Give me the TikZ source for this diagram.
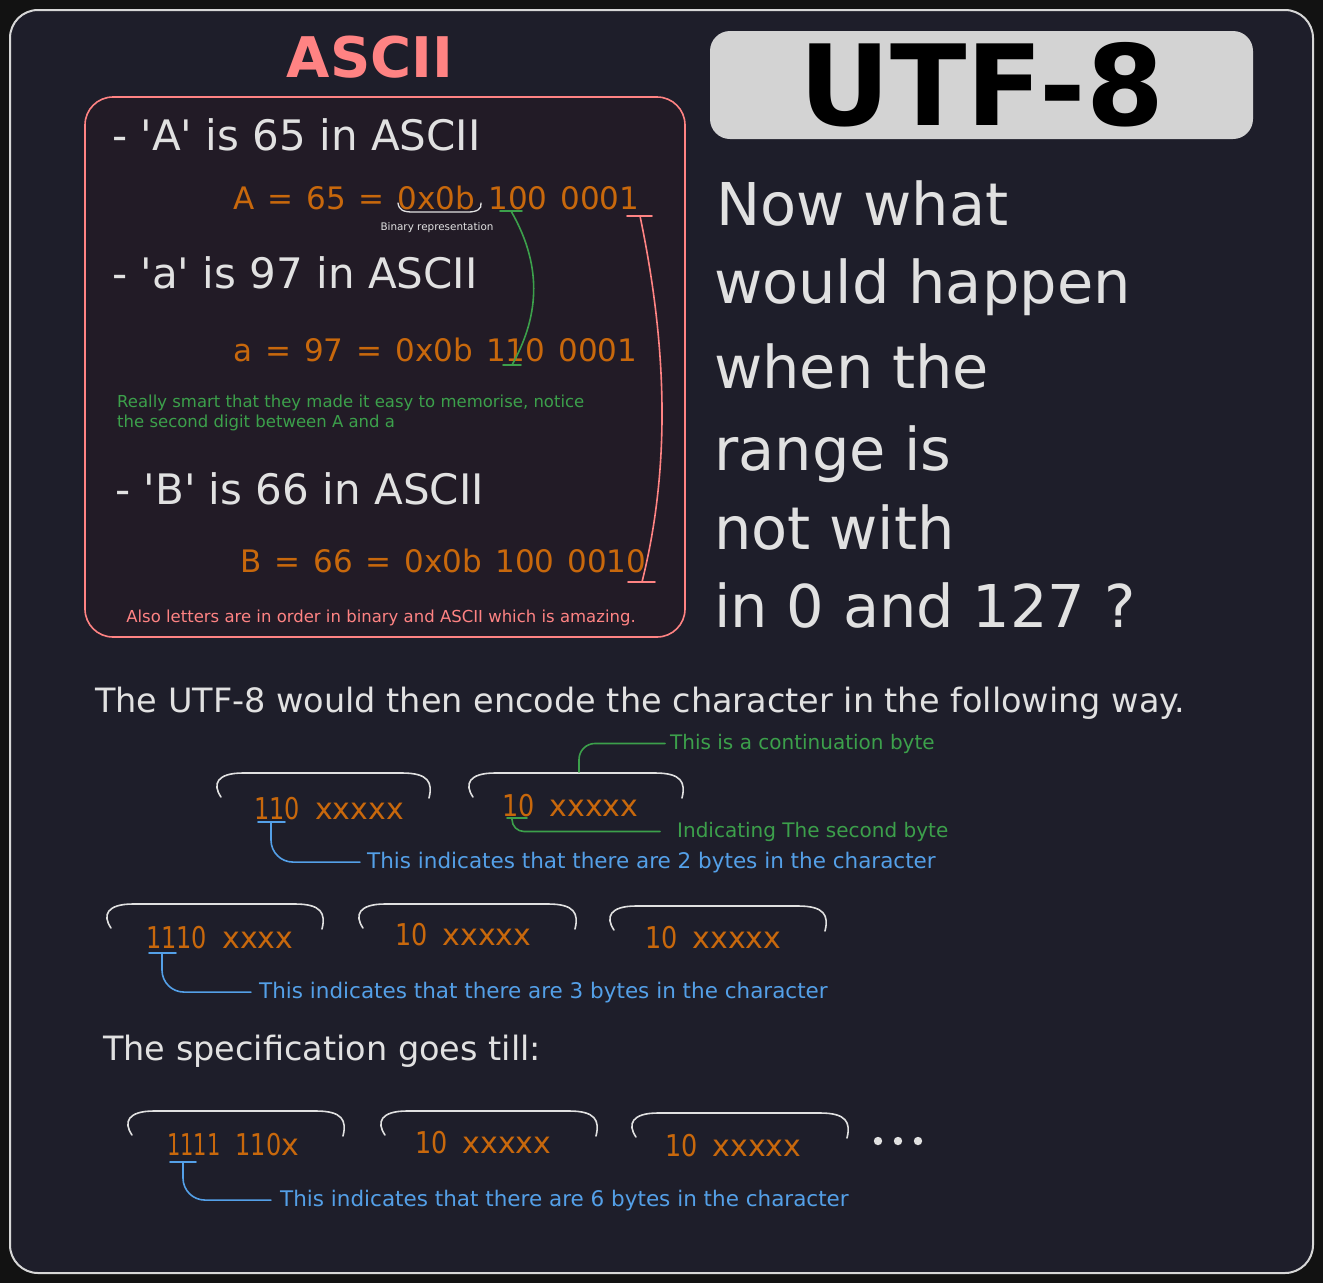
\documentclass[tikz,border=0pt]{standalone}
\usepackage{fontspec}
\setmainfont{DejaVu Sans}
\definecolor{outerbg}{RGB}{18,18,18}
\definecolor{cardbg}{RGB}{30,30,42}
\definecolor{cardline}{RGB}{215,215,215}
\definecolor{asciibg}{RGB}{34,27,38}
\definecolor{pinkc}{RGB}{255,131,131}
\definecolor{txtw}{RGB}{225,225,225}
\definecolor{orangec}{RGB}{200,104,12}
\definecolor{bluec}{RGB}{84,160,232}
\definecolor{greenc}{RGB}{60,160,75}
\definecolor{utfbg}{RGB}{211,211,211}
\newcommand\fsz[1]{\fontsize{#1}{#1}\selectfont}
\newcommand\hsq[2]{\scalebox{#1}[1]{#2}}
\newcommand\sq{\textquotesingle}
\newcommand\gap{\hspace{0.42em}}
\newcommand\byt[3]{\hsq{#1}{#2}\hspace{0.5em}#3}
\newcommand\ubrack[3]{%
  \draw[brackline] ({#1+6},{#3+25}) .. controls ({#1-3},{#3+12}) and ({#1+2},{#3+1}) .. ({#1+28},{#3+1})
    -- ({#2-28},{#3+1}) .. controls ({#2-2},{#3+1}) and ({#2+3},{#3+10}) .. ({#2-1},{#3+26});}
\tikzset{
  tx/.style={inner sep=0pt, anchor=base west},
  wtxt/.style={tx, text=txtw},
  otxt/.style={tx, text=orangec},
  btxt/.style={tx, text=bluec},
  gtxt/.style={tx, text=greenc},
  ptxt/.style={tx, text=pinkc},
  brackline/.style={draw=txtw, line width=1.6pt, line cap=round},
  bluel/.style={draw=bluec, line width=1.6pt, line cap=round},
  greenl/.style={draw=greenc, line width=1.6pt, line cap=round},
  pinkl/.style={draw=pinkc, line width=1.6pt, line cap=round},
}
\begin{document}
\begin{tikzpicture}[x=1pt,y=-1pt]
\useasboundingbox (0,0) rectangle (1323,1283);
\fill[outerbg] (0,0) rectangle (1323,1283);
\draw[draw=cardline, fill=cardbg, line width=2pt, rounded corners=28pt] (10,10) rectangle (1313,1273);

% ASCII section
\node[text=pinkc, inner sep=0pt, anchor=base, font=\bfseries\fsz{56}] (asciititle) at (370,77) {ASCII};
\draw[draw=pinkc, fill=asciibg, line width=1.6pt, rounded corners=28pt] (85,97) rectangle (685,637);

\node[wtxt, font=\fsz{42}] (lA) at (112,150) {- \sq A\sq{} is 65 in ASCII};
\node[otxt, font=\fsz{31}] (eqA) at (233,209) {A\gap=\gap65\gap=\gap0x0b\gap100\gap0001};
\node[text=txtw, inner sep=0pt, anchor=base, font=\fsz{10.4}] (binrep) at (437,230) {Binary representation};
\draw[brackline, line width=1.3pt] (398,203) .. controls (399,210) and (403,212) .. (413,212) -- (468,212) .. controls (477,212) and (482,209) .. (481,203);

\node[wtxt, font=\fsz{42}] (la) at (112,288) {- \sq a\sq{} is 97 in ASCII};
\node[otxt, font=\fsz{31}] (eqa) at (233,361) {a\gap=\gap97\gap=\gap0x0b\gap110\gap0001};

\node[gtxt, font=\fsz{16.5}] (note1) at (117,407) {Really smart that they made it easy to memorise, notice};
\node[gtxt, font=\fsz{16.5}] (note2) at (117,427) {the second digit between A and a};

\node[wtxt, font=\fsz{42}] (lB) at (115,504) {- \sq B\sq{} is 66 in ASCII};
\node[otxt, font=\fsz{31}] (eqB) at (240,572) {B\gap=\gap66\gap=\gap0x0b\gap100\gap0010};
\node[text=pinkc, inner sep=0pt, anchor=base, font=\fsz{16.5}] (note3) at (381,622) {Also letters are in order in binary and ASCII which is amazing.};

% green connector (second digit)
\coordinate (gtop) at (511,211);
\coordinate (gbot) at (512,365);
\draw[greenl] (500,211) -- (522,211);
\draw[greenl] (503,365) -- (521,365);
\draw[greenl] (gtop) .. controls (545,270) and (537,320) .. (gbot);

% pink connector (letters in order)
\coordinate (ptop) at (640,216);
\coordinate (pbot) at (642,582);
\draw[pinkl] (627,216) -- (652,216);
\draw[pinkl] (628,582) -- (655,582);
\draw[pinkl] (ptop) .. controls (668,350) and (670,470) .. (pbot);

% UTF-8 header
\node[fill=utfbg, rounded corners=20pt, minimum width=543pt, minimum height=108pt, inner sep=0pt,
      text=black, font=\bfseries\fsz{112}] (utf) at (981.5,85) {UTF-8};

% Right paragraph
\node[wtxt, font=\fsz{59}] (q1) at (716,225) {Now what};
\node[wtxt, font=\fsz{59}] (q2) at (714,303) {would happen};
\node[wtxt, font=\fsz{59}] (q3) at (714,388) {when the};
\node[wtxt, font=\fsz{59}] (q4) at (714,470) {range is};
\node[wtxt, font=\fsz{59}] (q5) at (714,549) {not with};
\node[wtxt, font=\fsz{59}] (q6) at (714,627) {in 0 and 127 ?};

% UTF-8 encoding
\node[wtxt, font=\fsz{33.5}] (intro) at (95,712) {The UTF-8 would then encode the character in the following way.};

% Row 1
\ubrack{215}{430}{772}
\ubrack{467}{683}{772}
\node[otxt, font=\fsz{30}] (r1a) at (254,819) {\byt{0.8}{110}{xxxxx}};
\node[otxt, font=\fsz{30}] (r1b) at (502,816) {\byt{0.85}{10}{xxxxx}};
\node[gtxt, font=\fsz{20}] (cont) at (670,749) {This is a continuation byte};
\node[gtxt, font=\fsz{20}] (second) at (677,837) {Indicating The second byte};
\node[btxt, font=\fsz{21.5}] (two) at (367,868) {This indicates that there are 2 bytes in the character};
\coordinate (k1) at (579,772);
\draw[greenl, rounded corners=16pt] (k1) -- (k1 |- cont.west) -- ([xshift=-5pt]cont.west);
\draw[greenl] (507,818) -- (527,818);
\coordinate (k2) at (512,818);
\draw[greenl, rounded corners=12pt] (k2) -- (k2 |- second.west) -- ([xshift=-17pt]second.west);
\draw[bluel] (258,822) -- (285,822);
\coordinate (b1) at (271,822);
\draw[bluel, rounded corners=22pt] (b1) -- (b1 |- two.west) -- ([xshift=-7pt]two.west);

% Row 2
\ubrack{105}{323}{903}
\ubrack{357}{576}{903}
\ubrack{608}{826}{905}
\node[otxt, font=\fsz{30}] (r2a) at (146,948) {\byt{0.8}{1110}{xxxx}};
\node[otxt, font=\fsz{30}] (r2b) at (395,945) {\byt{0.85}{10}{xxxxx}};
\node[otxt, font=\fsz{30}] (r2c) at (645,948) {\byt{0.85}{10}{xxxxx}};
\node[btxt, font=\fsz{21.5}] (three) at (259,998) {This indicates that there are 3 bytes in the character};
\draw[bluel] (149,953) -- (176,953);
\coordinate (b2) at (162,953);
\draw[bluel, rounded corners=22pt] (b2) -- (b2 |- three.west) -- ([xshift=-8pt]three.west);

% Spec
\node[wtxt, font=\fsz{33.5}] (spec) at (103,1060) {The specification goes till:};

% Row 3
\ubrack{126}{344}{1110}
\ubrack{379}{597}{1110}
\ubrack{630}{848}{1112}
\node[otxt, font=\fsz{30}] (r3a) at (167,1155) {\byt{0.7}{1111}{\hsq{0.8}{110}x}};
\node[otxt, font=\fsz{30}] (r3b) at (415,1153) {\byt{0.85}{10}{xxxxx}};
\node[otxt, font=\fsz{30}] (r3c) at (665,1156) {\byt{0.85}{10}{xxxxx}};
\fill[txtw] (878,1141) circle (4.2pt) (898,1141) circle (4.2pt) (918,1141) circle (4.2pt);
\node[btxt, font=\fsz{21.5}] (six) at (280,1206) {This indicates that there are 6 bytes in the character};
\draw[bluel] (170,1162) -- (196,1162);
\coordinate (b3) at (183,1162);
\draw[bluel, rounded corners=22pt] (b3) -- (b3 |- six.west) -- ([xshift=-9pt]six.west);
\end{tikzpicture}
\end{document}
